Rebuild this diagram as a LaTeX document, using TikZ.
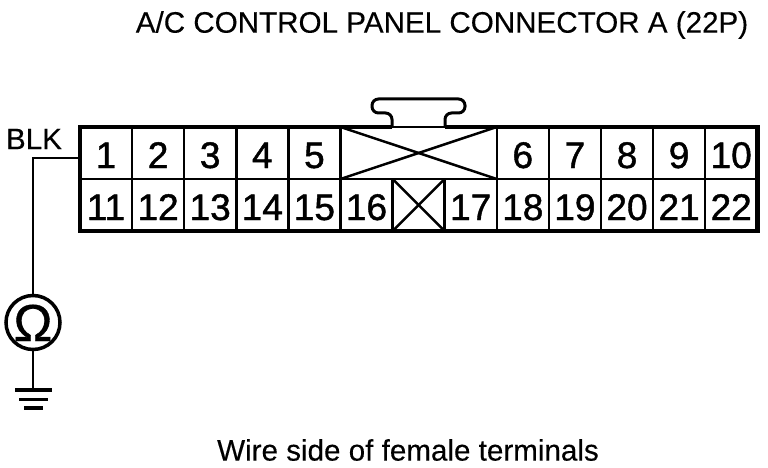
\documentclass[tikz,border=0pt]{standalone}
\usepackage{fontspec}
\setmainfont[FakeBold=0.3]{Liberation Sans}
\newfontfamily\heavyfont[FakeBold=1.2]{Liberation Sans}
\newfontfamily\ohmfont[FakeBold=0.7]{Liberation Sans}
\pgfdeclarelayer{edgelayer}
\pgfdeclarelayer{nodelayer}
\pgfsetlayers{edgelayer,nodelayer,main}
\tikzstyle{pin}=[rectangle,draw,line width=2.5pt,inner sep=0pt,outer sep=0pt,minimum width=52.1pt,minimum height=52pt,text height=30pt,text depth=0pt,font=\heavyfont\fontsize{37}{37}\selectfont]
\tikzstyle{wide}=[style=pin,minimum width=156.3pt]
\tikzstyle{caption}=[inner sep=0pt,font=\fontsize{29.6}{29.6}\selectfont]
\tikzstyle{meter}=[circle,draw,line width=3.5pt,inner sep=0pt,minimum size=54pt,text height=37pt,text depth=0pt,font=\ohmfont\fontsize{52}{52}\selectfont]
\tikzstyle{shell}=[line width=4.5pt]
\tikzstyle{wire}=[line width=2.5pt]

\begin{document}
\begin{tikzpicture}[x=1pt,y=-1pt]
	\useasboundingbox (0, 0) rectangle (768, 468);
	\begin{pgfonlayer}{nodelayer}
		\node [style=caption] (title) at (442, 25) {A/C CONTROL PANEL CONNECTOR A (22P)};
		\node [style=caption] (foot) at (408, 450) {Wire side of female terminals};
		\node [style=caption] (blk) at (34, 139) {BLK};
		\node [style=pin] (1) at (106, 153) {1};
		\node [style=pin] (2) at (158.1, 153) {2};
		\node [style=pin] (3) at (210.2, 153) {3};
		\node [style=pin] (4) at (262.3, 153) {4};
		\node [style=pin] (5) at (314.4, 153) {5};
		\node [style=wide] (x0) at (418.6, 153) {};
		\node [style=pin] (6) at (522.8, 153) {6};
		\node [style=pin] (7) at (574.9, 153) {7};
		\node [style=pin] (8) at (627, 153) {8};
		\node [style=pin] (9) at (679.1, 153) {9};
		\node [style=pin] (10) at (731.2, 153) {10};
		\node [style=pin] (11) at (106, 205) {11};
		\node [style=pin] (12) at (158.1, 205) {12};
		\node [style=pin] (13) at (210.2, 205) {13};
		\node [style=pin] (14) at (262.3, 205) {14};
		\node [style=pin] (15) at (314.4, 205) {15};
		\node [style=pin] (16) at (366.5, 205) {16};
		\node [style=pin] (x1) at (418.6, 205) {};
		\node [style=pin] (17) at (470.7, 205) {17};
		\node [style=pin] (18) at (522.8, 205) {18};
		\node [style=pin] (19) at (574.9, 205) {19};
		\node [style=pin] (20) at (627, 205) {20};
		\node [style=pin] (21) at (679.1, 205) {21};
		\node [style=pin] (22) at (731.2, 205) {22};
		\node [style=meter] (ohm) at (33, 322.5) {Ω};
		\coordinate (a) at (392, 127);
		\coordinate (b) at (445, 127);
		\coordinate (c) at (80, 158);
		\coordinate (d) at (33, 158);
		\coordinate (e) at (33, 390);
		\coordinate (f) at (15, 390);
		\coordinate (g) at (52, 390);
		\coordinate (h) at (19, 399);
		\coordinate (i) at (48, 399);
		\coordinate (j) at (24, 408);
		\coordinate (k) at (43, 408);
	\end{pgfonlayer}
	\begin{pgfonlayer}{edgelayer}
		\draw[style=wire] (x0.north west) to (x0.south east);
		\draw[style=wire] (x0.south west) to (x0.north east);
		\draw[style=wire] (x1.north west) to (x1.south east);
		\draw[style=wire] (x1.south west) to (x1.north east);
	\end{pgfonlayer}
	\draw[style=shell] (a) to (1.north west) to (11.south west) to (22.south east) to (10.north east) to (b);
	\draw[line width=3pt,rounded corners=6.5pt] (a) -- (392, 113) -- (372, 113) -- (372, 99) -- (465, 99) -- (465, 113) -- (445, 113) -- (b);
	\draw[style=wire] (c) to (d) to (ohm);
	\draw[style=wire] (ohm) to (e);
	\draw[line width=4pt] (f) to (g);
	\draw[line width=3pt] (h) to (i);
	\draw[line width=4pt] (j) to (k);
\end{tikzpicture}
\end{document}
